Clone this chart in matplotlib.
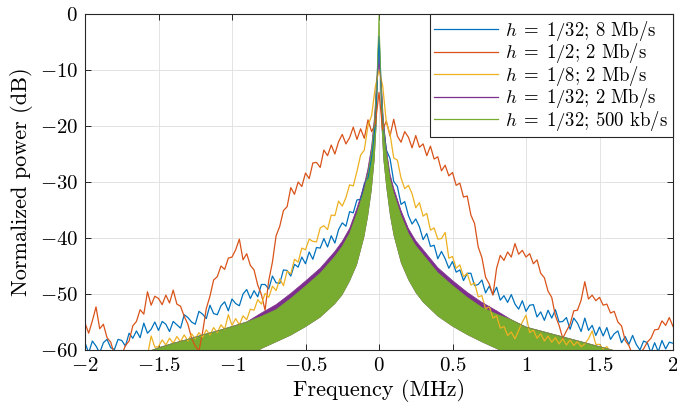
import numpy as np
import matplotlib.pyplot as plt
from matplotlib.ticker import FuncFormatter

plt.rcParams['font.family'] = 'serif'
plt.rcParams['font.serif'] = ['cmr10']
plt.rcParams['mathtext.fontset'] = 'cm'
plt.rcParams['axes.formatter.use_mathtext'] = True

# frequency grid of the noisy spectra (MHz), 0.025 MHz spacing
freq = np.arange(-2.0, 2.0001, 0.025)

# h = 1/32; 8 Mb/s
blue_db = [
    -58.7, -60.5, -58.4, -59.3, -60.5, -58.7, -58.1, -59.6, -59.9, -58.1,
    -58.3, -59.3, -57.0, -57.9, -56.6, -57.8, -55.2, -57.0, -56.3, -55.0,
    -56.5, -54.9, -55.4, -56.7, -54.9, -55.5, -56.1, -53.7, -54.2, -55.0,
    -55.4, -53.1, -53.6, -54.4, -52.0, -53.5, -53.7, -52.1, -51.4, -53.0,
    -50.9, -51.7, -52.1, -50.0, -49.2, -50.8, -49.4, -50.5, -48.3, -48.3,
    -49.1, -46.8, -48.0, -48.1, -45.7, -45.8, -46.8, -44.7, -45.2, -43.4,
    -44.6, -42.5, -43.8, -41.7, -41.8, -40.1, -41.6, -39.6, -40.9, -38.5,
    -37.3, -37.9, -35.3, -35.5, -33.2, -33.1, -30.3, -29.2, -25.4, -19.5,
    -4.0, -19.0, -24.3, -25.8, -29.9, -30.8, -34.0, -33.5, -36.0, -37.5,
    -36.6, -38.0, -40.3, -39.2, -41.5, -41.3, -43.7, -42.4, -43.7, -45.4,
    -44.2, -46.1, -45.7, -47.6, -46.3, -46.3, -48.5, -48.3, -47.5, -49.8,
    -48.6, -50.1, -48.8, -51.1, -50.3, -51.5, -50.1, -51.8, -52.7, -51.2,
    -53.1, -52.0, -51.9, -54.1, -53.2, -54.7, -52.9, -54.3, -52.8, -55.0,
    -54.9, -54.2, -56.3, -54.3, -55.2, -56.7, -54.3, -56.5, -55.6, -57.4,
    -55.9, -57.5, -56.0, -58.1, -57.1, -56.6, -58.7, -57.6, -59.0, -57.4,
    -59.0, -60.0, -58.4, -58.7, -60.5, -58.7, -60.3, -58.3, -59.8, -58.6,
    -58.8]

# h = 1/2; 2 Mb/s
red_db = [
    -55.2, -57.0, -54.8, -52.3, -56.2, -55.4, -57.8, -58.6, -60.8, -61.5,
    -60.9, -59.2, -58.4, -55.7, -54.9, -52.8, -53.6, -49.6, -52.0, -50.4,
    -50.8, -51.9, -50.2, -51.6, -49.3, -51.8, -52.2, -54.0, -55.4, -57.9,
    -59.3, -60.2, -56.8, -52.6, -50.4, -47.5, -46.9, -45.0, -45.6, -43.6,
    -43.4, -42.1, -40.2, -43.9, -42.8, -44.9, -45.7, -48.4, -50.1, -52.9,
    -47.6, -44.3, -39.6, -37.9, -35.1, -34.4, -31.0, -32.2, -30.0, -30.8,
    -28.4, -29.4, -26.6, -26.5, -27.4, -24.3, -25.3, -23.4, -25.0, -22.8,
    -21.5, -23.2, -22.1, -20.2, -22.4, -20.5, -22.2, -18.9, -21.0, -19.6,
    -14.0, -20.7, -19.1, -21.8, -18.8, -21.8, -22.9, -21.0, -22.0, -23.9,
    -21.7, -23.8, -23.2, -25.3, -23.6, -25.9, -25.5, -28.0, -27.0, -28.9,
    -28.3, -30.6, -30.2, -32.7, -32.5, -35.9, -37.4, -41.6, -43.5, -47.0,
    -48.2, -50.2, -45.4, -43.1, -44.0, -42.5, -43.4, -41.0, -42.9, -42.2,
    -43.4, -42.8, -44.6, -43.9, -46.3, -47.1, -49.5, -50.6, -53.9, -55.6,
    -57.9, -56.6, -55.4, -53.0, -52.9, -51.1, -47.8, -50.9, -50.2, -51.2,
    -50.6, -52.0, -51.8, -53.4, -53.1, -55.0, -55.7, -58.3, -59.2, -60.9,
    -61.2, -60.6, -59.8, -58.6, -57.9, -56.4, -56.3, -54.8, -55.6, -54.2,
    -55.8]

# h = 1/8; 2 Mb/s
yellow_db = [
    -64.0, -64.0, -64.0, -64.0, -64.0, -64.0, -64.0, -64.0, -64.0, -64.0,
    -64.0, -64.0, -63.5, -63.0, -62.5, -62.0, -61.5, -61.0, -57.5, -59.5,
    -59.4, -58.2, -59.1, -57.9, -58.8, -57.6, -58.5, -57.3, -58.4, -57.1,
    -58.0, -56.9, -57.7, -56.4, -57.3, -56.0, -56.9, -55.5, -56.3, -53.7,
    -55.6, -54.4, -55.5, -53.9, -54.6, -52.7, -52.9, -51.0, -51.8, -49.9,
    -50.6, -48.6, -49.4, -47.3, -48.5, -45.9, -46.4, -43.8, -44.3, -41.8,
    -42.1, -40.2, -40.6, -40.7, -38.2, -37.8, -38.5, -35.9, -36.0, -33.4,
    -34.3, -32.8, -30.5, -30.7, -28.1, -25.2, -24.3, -20.0, -18.1, -13.0,
    -10.0, -12.8, -19.4, -21.4, -25.7, -26.1, -29.3, -31.2, -30.6, -32.1,
    -34.6, -33.7, -36.1, -35.6, -38.6, -38.2, -40.2, -40.1, -39.0, -43.6,
    -43.3, -45.4, -44.8, -46.9, -46.3, -48.4, -48.0, -50.5, -50.3, -52.7,
    -52.2, -54.3, -53.9, -56.1, -55.8, -57.4, -56.8, -58.0, -56.5, -55.0,
    -53.8, -56.9, -56.4, -57.9, -57.1, -58.4, -57.5, -58.6, -57.8, -58.9,
    -58.0, -59.1, -58.2, -59.2, -58.5, -59.4, -58.9, -58.0, -56.6, -59.0,
    -59.0, -59.8, -59.4, -60.4, -60.8, -61.5, -62.0, -62.5, -63.0, -63.5,
    -64.0, -64.0, -64.0, -64.0, -64.0, -64.0, -64.0, -64.0, -64.0, -64.0,
    -64.0]

# envelopes of the fast-oscillating narrowband spectra
freq_env = [-2.0, -1.6, -1.5, -1.4, -1.3, -1.2, -1.1, -1.0, -0.9, -0.8,
            -0.7, -0.6, -0.5, -0.4, -0.3, -0.25, -0.2, -0.15, -0.1, -0.075,
            -0.05, -0.03, -0.015, 0.0, 0.015, 0.03, 0.05, 0.075, 0.1, 0.15,
            0.2, 0.25, 0.3, 0.4, 0.5, 0.6, 0.7, 0.8, 0.9, 1.0,
            1.1, 1.2, 1.3, 1.4, 1.5, 1.6, 2.0]

# h = 1/32; 2 Mb/s (upper edge)
purple_upper = [-64.0, -60.6, -59.6, -58.8, -58.1, -57.3, -56.6, -55.8, -55.0, -53.4,
                -51.9, -49.9, -47.7, -45.4, -42.4, -40.6, -38.3, -34.7, -30.5, -27.6,
                -23.6, -18.2, -11.5, -9.0, -12.0, -19.0, -24.1, -28.6, -31.1, -35.1,
                -38.3, -40.5, -42.1, -45.3, -47.6, -49.7, -51.5, -53.0, -54.6, -55.9,
                -56.6, -57.3, -58.0, -58.7, -59.4, -60.1, -63.0]

# h = 1/32; 500 kb/s (upper and lower edges)
green_upper = [-64.0, -60.6, -59.6, -58.8, -58.1, -57.3, -56.6, -55.8, -55.0, -54.0,
               -52.8, -50.8, -48.6, -46.3, -43.3, -41.5, -39.2, -35.6, -31.4, -28.5,
               -24.5, -19.0, -12.0, 0.0, -13.0, -20.0, -25.0, -29.5, -32.0, -36.0,
               -39.2, -41.4, -43.0, -46.2, -48.5, -50.6, -52.4, -53.6, -54.6, -55.9,
               -56.6, -57.3, -58.0, -58.7, -59.4, -60.1, -63.0]
green_lower = [-75.0, -70.0, -69.0, -68.0, -67.0, -66.0, -64.5, -63.0, -61.5, -59.8,
               -58.6, -57.4, -55.9, -54.2, -51.8, -50.2, -47.8, -44.8, -39.8, -36.2,
               -31.5, -26.0, -19.0, -2.0, -19.0, -26.0, -31.0, -36.0, -39.6, -44.5,
               -47.5, -49.8, -51.5, -54.0, -55.8, -57.3, -58.6, -59.8, -61.0, -62.5,
               -64.0, -65.5, -66.5, -67.5, -68.5, -69.5, -75.0]

labels = [r'$h\;=\;1/32$; 8 Mb/s', r'$h\;=\;1/2$; 2 Mb/s', r'$h\;=\;1/8$; 2 Mb/s',
          r'$h\;=\;1/32$; 2 Mb/s', r'$h\;=\;1/32$; 500 kb/s']
colors = ['#0072BD', '#D95319', '#EDB120', '#7E2F8E', '#77AC30']

fig = plt.figure(figsize=(6.77, 4.08), dpi=100)
ax = fig.add_axes([85 / 677, 58 / 408, 588 / 677, 336 / 408])

ax.plot(freq, blue_db, color=colors[0], lw=0.9, label=labels[0])
ax.plot(freq, red_db, color=colors[1], lw=0.9, label=labels[1])
ax.plot(freq, yellow_db, color=colors[2], lw=0.9, label=labels[2])
ax.fill_between(freq_env, green_lower, purple_upper, color=colors[3], lw=0)
ax.plot(freq_env, purple_upper, color=colors[3], lw=0.5, label=labels[3])
ax.fill_between(freq_env, green_lower, green_upper, color=colors[4], lw=0)
ax.plot(freq_env, green_upper, color=colors[4], lw=0.5, label=labels[4])

ax.set_xlim(-2, 2)
ax.set_ylim(-60, 0)
ax.set_xticks([-2, -1.5, -1, -0.5, 0, 0.5, 1, 1.5, 2])
ax.set_yticks([-60, -50, -40, -30, -20, -10, 0])
fmt = FuncFormatter(lambda v, p: '$%g$' % v)
ax.xaxis.set_major_formatter(fmt)
ax.yaxis.set_major_formatter(fmt)
ax.grid(True, color='#e3e3e3', lw=0.7)
ax.set_axisbelow(True)
ax.tick_params(direction='in', top=True, right=True, length=4.5,
               width=0.7, color='0.15', labelsize=15, pad=5)
for s in ax.spines.values():
    s.set_color('0.15')
    s.set_linewidth(0.8)

ax.set_xlabel('Frequency (MHz)', fontsize=16, labelpad=3)
ax.set_ylabel('Normalized power (dB)', fontsize=16, labelpad=5)

leg = ax.legend(loc='upper right', fontsize=13.5, fancybox=False,
                framealpha=1, edgecolor='0.15', borderaxespad=0,
                handlelength=3.4, labelspacing=-0.08, handletextpad=0.4,
                borderpad=0.25)
leg.get_frame().set_linewidth(0.8)
for line in leg.get_lines():
    line.set_linewidth(0.9)

fig.savefig('out.png', dpi=100)
